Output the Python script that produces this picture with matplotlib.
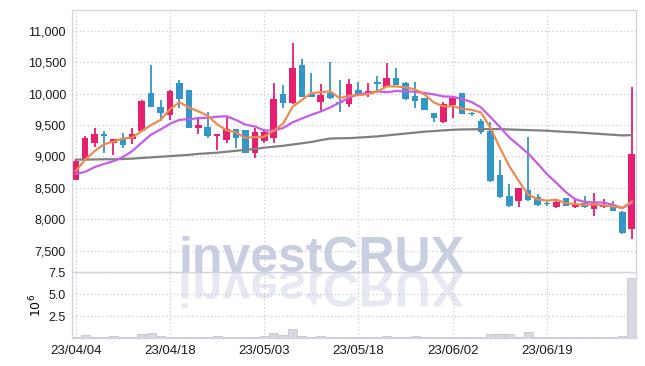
import numpy as np
import matplotlib.pyplot as plt
from matplotlib.textpath import TextPath
from matplotlib.font_manager import FontProperties
from matplotlib.patches import PathPatch
from matplotlib.transforms import Affine2D
from matplotlib.ticker import FuncFormatter

# daily candles, 23/04/04 .. 23/06/30
opens = [8630, 8950, 9220, 9360, 9220, 9275, 9285, 9400, 10010, 9795,
         9665, 10175, 10055, 9460, 9475, 9330, 9260, 9435, 9420, 9060,
         9245, 9300, 9990, 9850, 10455, 10000, 9865, 10015, 9855, 9840,
         10065, 9990, 10190, 10110, 10255, 10170, 9960, 9930, 9695, 9545,
         9825, 10010, 9690, 9565, 9410, 8700, 8375, 8285, 8470, 8350,
         8245, 8190, 8340, 8190, 8255, 8160, 8195, 8215, 8120, 7840]
highs = [8940, 9330, 9460, 9400, 9280, 9380, 9460, 9900, 10455, 9900,
         10065, 10215, 10060, 9625, 9715, 9365, 9635, 9440, 9425, 9460,
         9435, 10175, 10145, 10805, 10550, 10325, 10160, 10500, 10225, 10240,
         10190, 10175, 10280, 10485, 10405, 10180, 10190, 9935, 9700, 9865,
         9945, 10015, 9705, 9600, 9555, 8940, 8555, 8500, 9315, 8405,
         8270, 8290, 8345, 8320, 8375, 8415, 8320, 8295, 8125, 10105]
lows = [8620, 8930, 9150, 9060, 9020, 9140, 9205, 9390, 9790, 9570,
        9580, 9775, 9455, 9365, 9300, 9095, 9220, 9140, 9050, 8980,
        9220, 9220, 9775, 9830, 9940, 9940, 9705, 9920, 9705, 9795,
        9960, 9945, 10010, 10100, 10140, 9905, 9775, 9740, 9555, 9540,
        9610, 9670, 9645, 9365, 8600, 8345, 8200, 8190, 8285, 8205,
        8205, 8185, 8205, 8175, 8175, 8055, 8175, 8125, 7760, 7680]
closes = [8925, 9290, 9355, 9330, 9275, 9185, 9355, 9890, 9795, 9690,
          10040, 9910, 9460, 9500, 9330, 9360, 9435, 9290, 9060, 9395,
          9395, 9910, 9850, 10405, 9945, 9945, 9975, 9930, 9845, 10150,
          9990, 10040, 10150, 10255, 10145, 9910, 9890, 9745, 9615, 9830,
          9930, 9675, 9670, 9395, 8605, 8350, 8205, 8495, 8310, 8230,
          8235, 8280, 8215, 8230, 8190, 8260, 8200, 8135, 7785, 9035]
volumes = [0.15, 0.3, 0.1, 0.1, 0.2, 0.1, 0.1, 0.4, 0.55, 0.2,
           0.15, 0.15, 0.1, 0.1, 0.1, 0.2, 0.1, 0.1, 0.1, 0.15,
           0.2, 0.55, 0.3, 1.0, 0.2, 0.15, 0.2, 0.15, 0.1, 0.1,
           0.1, 0.1, 0.1, 0.2, 0.1, 0.1, 0.2, 0.1, 0.1, 0.1,
           0.1, 0.1, 0.1, 0.15, 0.45, 0.45, 0.4, 0.15, 0.7, 0.15,
           0.1, 0.1, 0.1, 0.1, 0.1, 0.1, 0.1, 0.1, 0.2, 6.8]

# moving averages as shown on the chart
ma5 = [8765, 8950, 9085, 9195, 9235, 9287, 9300, 9407, 9500, 9583,
       9754, 9865, 9779, 9720, 9648, 9512, 9417, 9383, 9295, 9308,
       9315, 9410, 9522, 9791, 9901, 10011, 10024, 10040, 9928, 9969,
       9978, 9991, 10035, 10117, 10116, 10100, 10070, 9989, 9861, 9798,
       9802, 9759, 9744, 9700, 9455, 9139, 8845, 8610, 8393, 8318,
       8295, 8310, 8254, 8238, 8230, 8235, 8219, 8203, 8180, 8283]
ma10 = [8720, 8755, 8830, 8880, 8925, 8990, 9085, 9220, 9350, 9430,
        9521, 9583, 9593, 9610, 9616, 9633, 9641, 9581, 9508, 9478,
        9414, 9414, 9453, 9543, 9605, 9663, 9717, 9781, 9860, 9935,
        9995, 10008, 10038, 10023, 10043, 10039, 10031, 10012, 9989, 9957,
        9951, 9915, 9867, 9781, 9627, 9471, 9302, 9177, 9047, 8887,
        8717, 8578, 8432, 8316, 8274, 8265, 8265, 8229, 8176, 8257]
ma_long = [8950, 8950, 8952, 8955, 8955, 8958, 8965, 8975, 8985, 8995,
           9005, 9015, 9025, 9040, 9050, 9060, 9075, 9090, 9105, 9120,
           9140, 9155, 9170, 9190, 9210, 9230, 9260, 9285, 9290, 9292,
           9300, 9310, 9320, 9335, 9350, 9365, 9380, 9395, 9405, 9415,
           9425, 9430, 9432, 9435, 9437, 9435, 9430, 9425, 9420, 9415,
           9410, 9400, 9392, 9385, 9375, 9365, 9355, 9345, 9335, 9340]

tick_pos = [0, 10, 20, 30, 40, 50]
tick_labels = ['23/04/04', '23/04/18', '23/05/03', '23/05/18', '23/06/02', '23/06/19']

UP = '#e61f6e'
DOWN = '#3296c8'
GRID = '#c6c8dc'
SPINE = '#d2d3e0'
FONT = ['Liberation Sans', 'DejaVu Sans']

plt.rcParams['font.family'] = FONT

fig = plt.figure(figsize=(6.45, 3.66), dpi=100)
ax = fig.add_axes([0.1109, 0.2568, 0.8752, 0.7159])
ax2 = fig.add_axes([0.1109, 0.0765, 0.8752, 0.1803], sharex=ax)
for a in (ax, ax2):
    a.set_facecolor('none')
    for s in a.spines.values():
        s.set_color(SPINE)
        s.set_linewidth(0.9)
    a.grid(True, color=GRID, ls=(0, (1, 2)), lw=0.9)
    a.set_axisbelow(True)
    a.tick_params(length=0, labelsize=9.5, colors='#1a1a1a', pad=4)

o = np.array(opens)
c = np.array(closes)
x = np.arange(len(c))
cols = np.where(c >= o, UP, DOWN)

ax.vlines(x, lows, highs, colors=cols, lw=1.3, zorder=2)
ax.bar(x, np.maximum(np.abs(c - o), 15), bottom=np.minimum(o, c),
       width=0.7, color=cols, zorder=2.5)

ax.plot(x, ma_long, color='#808080', lw=1.6, zorder=3)
ax.plot(x, ma10, color='#c95be9', lw=1.6, zorder=3)
ax.plot(x, ma5, color='#ef8a4f', lw=1.6, zorder=3)

ax.set_xlim(-0.45, 59.45)
ax.set_ylim(7157, 11335)
ax.set_yticks(np.arange(7500, 11001, 500))
ax.yaxis.set_major_formatter(FuncFormatter(lambda v, p: f'{int(v):,}'))
ax.tick_params(labelbottom=False, labelsize=9)

ax2.bar(x, volumes, width=0.95, color='#d8d8e0', edgecolor='#c4c4d0', lw=0.6, zorder=2)
ax2.set_ylim(0, 7.5)
ax2.set_yticks([2.5, 5.0, 7.5])
ax2.set_yticklabels(['2.5', '5.0', '7.5'])
ax2.tick_params(axis='y', labelsize=9)
ax2.set_ylabel('$10^6$', fontsize=9, family='DejaVu Sans', labelpad=3)
ax2.set_xticks(tick_pos)
ax2.set_xticklabels(tick_labels)
ax2.tick_params(axis='x', pad=5)

# watermark and its reflection
wm_size = 36
wm_x = 178 / 645
wm_y = 1 - 272 / 366
fig.text(wm_x, wm_y, 'investCRUX', fontsize=wm_size, fontweight='bold',
         color='#c9cfe1', ha='left', va='baseline', zorder=-1)
fp = FontProperties(family=FONT, weight='bold')
tp = TextPath((0, 0), 'investCRUX', size=wm_size, prop=fp)
tr = Affine2D().scale(1 / 72, -1 / 72).translate(6.45 * wm_x, 3.66 * wm_y) + fig.dpi_scale_trans
refl = PathPatch(tp, transform=tr, color='#c9cfe1', alpha=0.45, lw=0, zorder=-1)
fig.add_artist(refl)

fig.savefig('out.png', dpi=100)
